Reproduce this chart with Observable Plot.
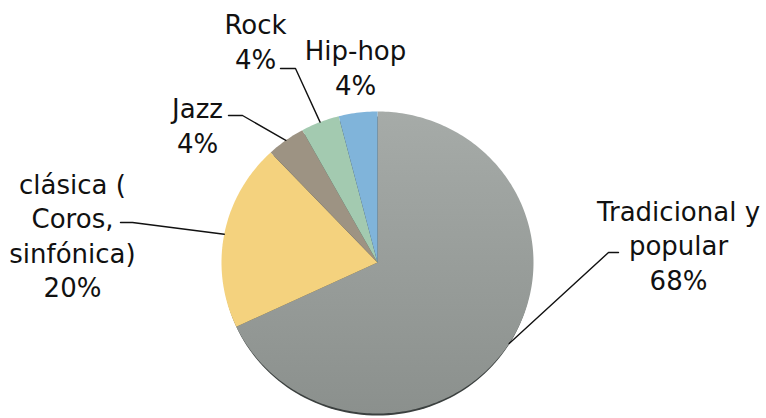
<!DOCTYPE html>
<html>
<head>
<meta charset="utf-8">
<script src="https://cdn.jsdelivr.net/npm/d3@7"></script>
<script src="https://cdn.jsdelivr.net/npm/@observablehq/plot@0.6"></script>
<style>
  html, body { margin: 0; padding: 0; background: #fff; }
  #chart { width: 766px; height: 418px; overflow: hidden; }
</style>
</head>
<body>
<div id="chart"></div>
<script>
// ---- data ----
const categories = ["Tradicional y popular", "clásica ( Coros, sinfónica)", "Jazz", "Rock", "Hip-hop"];
const values = [68, 20, 4, 4, 4];
const labelNames = [["Tradicional y", "popular"], ["clásica (", "Coros,", "sinfónica)"], ["Jazz"], ["Rock"], ["Hip-hop"]];
const sliceColors = ["url(#gradGray)", "#f4d27e", "#9d9383", "#a3cab0", "#80b4da"];

// ---- layout (pixels) ----
const W = 766, H = 418;
const pie = {cx: 377, cy: 262, rx: 156, ry: 151, rim: 3.5};
const labelAnchor = [[678, 244], [72, 234], [197, 124], [255, 40], [355, 66]];
// leader start and elbow for each label (null = no leader)
const leaderStart = [[[618, 252], [608, 252]], [[120, 222], [132, 222]], [[228, 115], [242, 115]], [[280, 68], [295, 68]], null];

const total = d3.sum(values);
function edge(theta, dy = 0, shrink = 0) {
  return [pie.cx + (pie.rx - shrink) * Math.sin(theta), pie.cy + dy - (pie.ry - shrink) * Math.cos(theta)];
}

// slice polygons
const slicePts = [];
const mids = [];
let acc = 0;
values.forEach((v, i) => {
  const a0 = acc / total * 2 * Math.PI;
  acc += v;
  const a1 = acc / total * 2 * Math.PI;
  mids.push((a0 + a1) / 2);
  slicePts.push({cat: categories[i], fill: sliceColors[i], x: pie.cx, y: pie.cy});
  const n = Math.max(4, Math.ceil((a1 - a0) / (Math.PI / 180)));
  for (let k = 0; k <= n; k++) {
    const [x, y] = edge(a0 + (a1 - a0) * k / n);
    slicePts.push({cat: categories[i], fill: sliceColors[i], x, y});
  }
});

// dark rim under the pie
const rimPts = d3.range(0, 361, 2).map(a => {
  const [x, y] = edge(a * Math.PI / 180, pie.rim, 1.5);
  return {x, y};
});

// leader lines
const leaderPts = [];
leaderStart.forEach((ls, i) => {
  if (!ls) return;
  const [ex, ey] = edge(mids[i]);
  [...ls, [ex, ey]].forEach(([x, y]) => leaderPts.push({cat: categories[i], x, y}));
});

// labels
const labels = categories.map((c, i) => ({
  text: [...labelNames[i], `${values[i]}%`].join("\n"),
  x: labelAnchor[i][0],
  y: labelAnchor[i][1]
}));

const chart = Plot.plot({
  width: W,
  height: H,
  margin: 0,
  x: {domain: [0, W], range: [0, W], axis: null},
  y: {domain: [0, H], range: [0, H], axis: null},
  color: {type: "identity"},
  marks: [
    Plot.line(rimPts, {x: "x", y: "y", fill: "#3b403f", stroke: "none", curve: "linear-closed"}),
    Plot.line(slicePts, {x: "x", y: "y", z: "cat", fill: d => d.fill, stroke: "none", curve: "linear-closed"}),
    Plot.line(leaderPts, {x: "x", y: "y", z: "cat", stroke: "#111", strokeWidth: 1.4}),
    Plot.text(labels, {
      x: "x", y: "y", text: "text",
      fontSize: 26, lineHeight: 1.32,
      fontFamily: "DejaVu Sans",
      fill: "#111", textAnchor: "middle"
    })
  ]
});

const svgNS = "http://www.w3.org/2000/svg";
const defs = document.createElementNS(svgNS, "defs");
defs.innerHTML = `<linearGradient id="gradGray" x1="0" y1="0" x2="0" y2="1">
  <stop offset="0" stop-color="#a6aba8"/>
  <stop offset="1" stop-color="#8b908d"/>
</linearGradient>`;
chart.insertBefore(defs, chart.firstChild);
chart.style.fontFamily = "DejaVu Sans";
document.getElementById("chart").appendChild(chart);
</script>
</body>
</html>
